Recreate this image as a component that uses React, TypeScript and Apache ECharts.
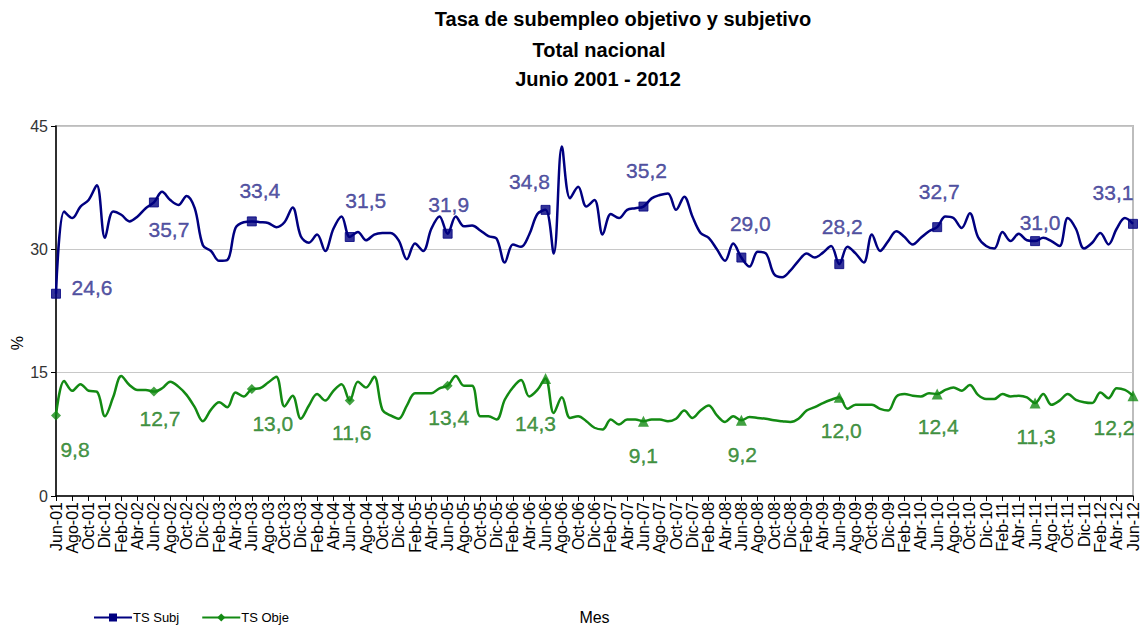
import React, { useEffect, useRef } from "react";
import * as echarts from "echarts";

const monthNames = ["Ene", "Feb", "Mar", "Abr", "May", "Jun", "Jul", "Ago", "Sep", "Oct", "Nov", "Dic"];
const startYear = 2001;
const startMonth = 5; // Jun
const nMonths = 133;
const categories: string[] = [];
for (let k = 0; k < nMonths; k++) {
  const m = (startMonth + k) % 12;
  const y = startYear + Math.floor((startMonth + k) / 12);
  categories.push(monthNames[m] + "-" + String(y % 100).padStart(2, "0"));
}

const tsSubj = [
  24.6, 34.6, 33.8, 35.2, 36.0, 37.8, 31.4, 34.6, 34.2, 33.4, 34.0, 35.0,
  35.7, 37.0, 36.0, 35.4, 36.5, 35.0, 30.5, 29.8, 28.6, 28.7, 32.6, 33.3,
  33.4, 33.3, 33.2, 32.7, 33.3, 35.1, 31.6, 30.8, 31.8, 29.8, 32.5, 34.0,
  31.5, 32.1, 31.1, 31.8, 32.0, 32.0, 31.1, 28.8, 30.7, 29.8, 32.5, 34.0,
  31.9, 34.0, 32.8, 32.9, 32.3, 31.6, 31.3, 28.4, 30.6, 30.3, 31.8, 34.3,
  34.8, 29.5, 42.5, 36.2, 37.6, 35.2, 36.0, 31.8, 34.3, 33.8, 34.8, 35.0,
  35.2, 36.2, 36.6, 36.8, 34.8, 36.4, 34.0, 32.0, 31.4, 30.0, 28.6, 30.7,
  29.0, 27.9, 29.7, 29.5, 27.0, 26.6, 27.4, 28.6, 29.5, 29.0, 29.6, 30.4,
  28.2, 30.3, 29.5, 28.4, 31.8, 29.8, 31.0, 32.2, 31.5, 30.6, 31.4, 32.2,
  32.7, 34.0, 33.8, 32.6, 34.4, 31.5, 30.4, 30.1, 32.1, 31.0, 31.9, 31.1,
  31.0, 31.4, 31.0, 30.4, 33.8, 32.5, 30.1, 30.8, 32.0, 30.6, 32.5, 33.8,
  33.1,
];

const tsObje = [
  9.8, 14.0, 12.8, 13.6, 12.8, 12.7, 9.7, 12.0, 14.6, 13.5, 12.9, 12.9,
  12.7, 13.1, 13.9, 13.3, 12.3, 10.8, 9.1, 10.5, 11.4, 10.8, 12.6, 12.1,
  13.0, 13.1, 13.8, 14.5, 10.9, 12.2, 9.4, 11.0, 12.4, 11.6, 12.8, 13.6,
  11.6, 13.9, 13.2, 14.5, 10.5, 9.8, 9.4, 11.0, 12.5, 12.5, 12.5, 13.1,
  13.4, 14.6, 13.4, 13.4, 9.7, 9.7, 9.3, 11.7, 13.2, 14.1, 12.1, 12.9,
  14.3, 10.1, 12.0, 9.5, 9.7, 9.1, 8.3, 8.1, 9.3, 8.7, 9.3, 9.3,
  9.1, 9.3, 9.3, 9.1, 9.4, 10.4, 9.5, 10.4, 11.0, 9.8, 9.0, 9.7,
  9.2, 9.6, 9.5, 9.4, 9.2, 9.1, 9.0, 9.4, 10.4, 10.8, 11.3, 11.7,
  12.0, 10.6, 11.1, 11.1, 11.1, 10.6, 10.4, 12.1, 12.4, 12.2, 12.1, 12.5,
  12.4, 12.9, 13.2, 12.8, 13.5, 12.3, 11.8, 11.8, 12.4, 12.1, 12.2, 12.0,
  11.3, 12.4, 11.1, 11.6, 12.4, 11.7, 11.4, 11.3, 12.6, 11.9, 13.1, 12.9,
  12.2,
];

const yTicks = [0, 15, 30, 45];
const labelIdx = [0, 12, 24, 36, 48, 60, 72, 84, 96, 108, 120, 132];
const subjLabelOffsets = [
  [36, -6], [15, 27], [8, -31], [16, -37], [1, -29], [-16, -28],
  [3, -36], [9, -34], [3, -38], [2, -36], [5, -19], [-20, -31],
];
const objeLabelOffsets = [
  [19, 34], [6, 27], [21, 34], [2, 32], [1, 32], [-10, 45],
  [0, 34], [1, 34], [2, 33], [1, 32], [1, 33], [-19, 32],
];

const BLUE = "#000080";
const BLUE_TXT = "#2b2b8c";
const GREEN = "#138a13";
const GREEN_TXT = "#167a16";

const fmt = (v: number) => v.toFixed(1).replace(".", ",");

export default function App() {
  const ref = useRef<HTMLDivElement>(null);
  useEffect(() => {
    if (!ref.current) return;
    const chart = echarts.init(ref.current, undefined, { renderer: "svg" });
    const subjPts = labelIdx.map((i, k) => ({
      value: [categories[i], tsSubj[i]],
      label: { offset: subjLabelOffsets[k] },
    }));
    const objePts = labelIdx.map((i, k) => ({
      value: [categories[i], tsObje[i]],
      symbol: i < 60 ? "diamond" : "triangle",
      symbolSize: i < 60 ? 10 : 11,
      label: { offset: objeLabelOffsets[k] },
    }));
    chart.setOption({
      animation: false,
      backgroundColor: "#ffffff",
      title: [
        { text: "Tasa de subempleo objetivo y subjetivo", left: 618, top: 4, textAlign: "center" },
        { text: "Total nacional", left: 594, top: 35, textAlign: "center" },
        { text: "Junio 2001 - 2012", left: 593, top: 64, textAlign: "center" },
      ].map((t) => ({
        ...t,
        textStyle: { fontFamily: "Liberation Sans, Arial", fontWeight: "bold", fontSize: 20, color: "#000" },
      })),
      graphic: [
        {
          type: "text",
          left: 9,
          top: 336,
          rotation: Math.PI / 2,
          style: { text: "%", fontFamily: "Liberation Sans, Arial", fontSize: 16, fill: "#000" },
        },
      ],
      grid: { left: 56, right: 8, top: 126, bottom: 125, show: true, borderColor: "#bdbdbd", borderWidth: 2 },
      legend: {
        left: 88,
        top: 606,
        itemWidth: 38,
        itemHeight: 10,
        itemGap: 22,
        data: ["TS Subj", "TS Obje"],
        textStyle: { fontFamily: "Liberation Sans Narrow, Liberation Sans", fontSize: 13, color: "#000", padding: [0, 0, 0, -4] },
      },
      xAxis: {
        type: "category",
        data: categories,
        boundaryGap: false,
        name: "Mes",
        nameLocation: "middle",
        nameGap: 113,
        nameTextStyle: { fontFamily: "Liberation Sans Narrow, Liberation Sans", fontSize: 16, color: "#000" },
        axisLine: { lineStyle: { color: "#000", width: 1.5 } },
        axisTick: { interval: 1, length: 5, lineStyle: { color: "#000" } },
        axisLabel: {
          interval: 1,
          rotate: 90,
          fontFamily: "Liberation Sans, Arial",
          fontSize: 16,
          color: "#000",
          margin: 6,
        },
        splitLine: { show: false },
      },
      yAxis: {
        type: "value",
        min: yTicks[0],
        max: yTicks[yTicks.length - 1],
        interval: 15,
        axisLine: { show: true, lineStyle: { color: "#000", width: 1.5 } },
        axisTick: { show: true, length: 5, lineStyle: { color: "#000" } },
        axisLabel: { fontFamily: "Liberation Sans, Arial", fontSize: 16, color: "#333", margin: 8 },
        splitLine: { show: true, lineStyle: { color: "#c8c8c8", width: 1 } },
      },
      series: [
        {
          name: "TS Subj",
          type: "line",
          data: tsSubj,
          smooth: 0.35,
          symbol: "rect",
          showSymbol: false,
          itemStyle: { color: BLUE },
          lineStyle: { color: BLUE, width: 2.5 },
          z: 3,
        },
        {
          name: "TS Obje",
          type: "line",
          data: tsObje,
          smooth: 0.35,
          symbol: "diamond",
          showSymbol: false,
          itemStyle: { color: GREEN },
          lineStyle: { color: GREEN, width: 2.5 },
          z: 3,
        },
        {
          name: "subjPts",
          type: "scatter",
          data: subjPts,
          symbol: "rect",
          symbolSize: 9,
          itemStyle: { color: BLUE, borderColor: BLUE, borderWidth: 1 },
          label: {
            show: true,
            position: "inside",
            formatter: (p: any) => fmt(p.value[1]),
            fontFamily: "Liberation Sans, Arial",
            fontSize: 21,
            color: BLUE_TXT,
            textBorderColor: BLUE_TXT,
            textBorderWidth: 0.4,
          },
          z: 4,
        },
        {
          name: "objePts",
          type: "scatter",
          data: objePts,
          itemStyle: { color: GREEN },
          label: {
            show: true,
            position: "inside",
            formatter: (p: any) => fmt(p.value[1]),
            fontFamily: "Liberation Sans, Arial",
            fontSize: 21,
            color: GREEN_TXT,
            textBorderColor: GREEN_TXT,
            textBorderWidth: 0.4,
          },
          z: 4,
        },
      ],
    });
    return () => chart.dispose();
  }, []);
  return <div ref={ref} style={{ position: "fixed", left: 0, top: 0, width: 1141, height: 630, background: "#fff" }} />;
}
